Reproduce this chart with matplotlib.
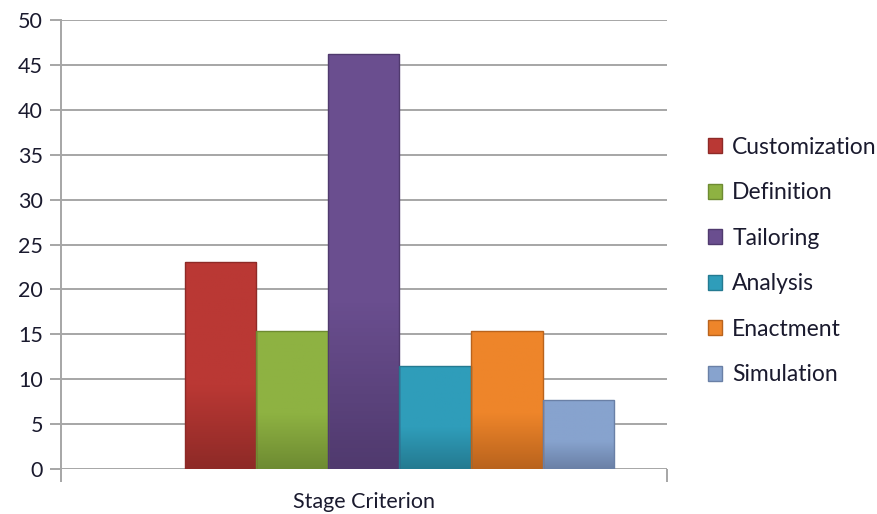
import numpy as np
import matplotlib.pyplot as plt
from matplotlib.patches import Patch
from matplotlib.colors import LinearSegmentedColormap

plt.rcParams['font.family'] = ['Lato', 'DejaVu Sans']

names = ['Customization', 'Definition', 'Tailoring', 'Analysis', 'Enactment', 'Simulation']
values = [23.1, 15.4, 46.2, 11.5, 15.4, 7.7]
colors = ['#BA3834', '#8EB242', '#6A4E8F', '#2F9DBA', '#EE852A', '#87A3CE']
dark = ['#8E2A27', '#6E8B32', '#503A6E', '#247A91', '#B9631D', '#6A80A6']
category = 'Stage Criterion'
text_color = '#1A1A2E'

fig = plt.figure(figsize=(8.78, 5.14), dpi=100)
ax = fig.add_axes([0.0695, 0.0875, 0.6902, 0.8735])

x = np.arange(len(values)) - (len(values) - 1) / 2
bars = ax.bar(x, values, width=1.0, color=colors, edgecolor=dark, linewidth=1.0, zorder=3)

# slight darkening toward the bottom of each bar
for b, c, d in zip(bars, colors, dark):
    cmap = LinearSegmentedColormap.from_list('g', [(0, d), (0.4, c), (1, c)])
    grad = np.linspace(0, 1, 100).reshape(-1, 1)
    x0, y0 = b.get_x(), b.get_y()
    im = ax.imshow(grad, cmap=cmap, aspect='auto', origin='lower',
                   extent=[x0, x0 + b.get_width(), y0, y0 + b.get_height()], zorder=3)
    im.set_clip_path(b)
    b.set_facecolor('none')
    b.set_zorder(4)

ax.set_xlim(-4.73, 3.74)
ax.set_ylim(0, 50)
ax.set_yticks(np.arange(0, 51, 5))
ax.yaxis.grid(True, color='#A6A6A6', linewidth=1.4, zorder=0)
ax.set_axisbelow(True)

for s in ['top', 'right', 'bottom']:
    ax.spines[s].set_visible(False)
ax.spines['left'].set_color('#A6A6A6')
ax.spines['left'].set_linewidth(1.4)

ax.set_xticks([-4.73, 3.74])
ax.set_xticklabels(['', ''])
ax.tick_params(axis='x', length=9, width=1.4, color='#A6A6A6')
ax.tick_params(axis='y', length=8, width=1.4, color='#A6A6A6', labelsize=15.5,
               pad=5, labelcolor=text_color)
ax.set_xlabel(category, fontsize=15.5, labelpad=4, color=text_color)

handles = [Patch(facecolor=c, edgecolor=d) for c, d in zip(colors, dark)]
leg = fig.legend(handles, names, loc='center left', bbox_to_anchor=(0.793, 0.492),
                 frameon=False, fontsize=16.5, handlelength=0.62, handleheight=0.62,
                 handletextpad=0.45, labelspacing=1.07, borderpad=0)
for t in leg.get_texts():
    t.set_color(text_color)

fig.savefig('out.png', dpi=100)
